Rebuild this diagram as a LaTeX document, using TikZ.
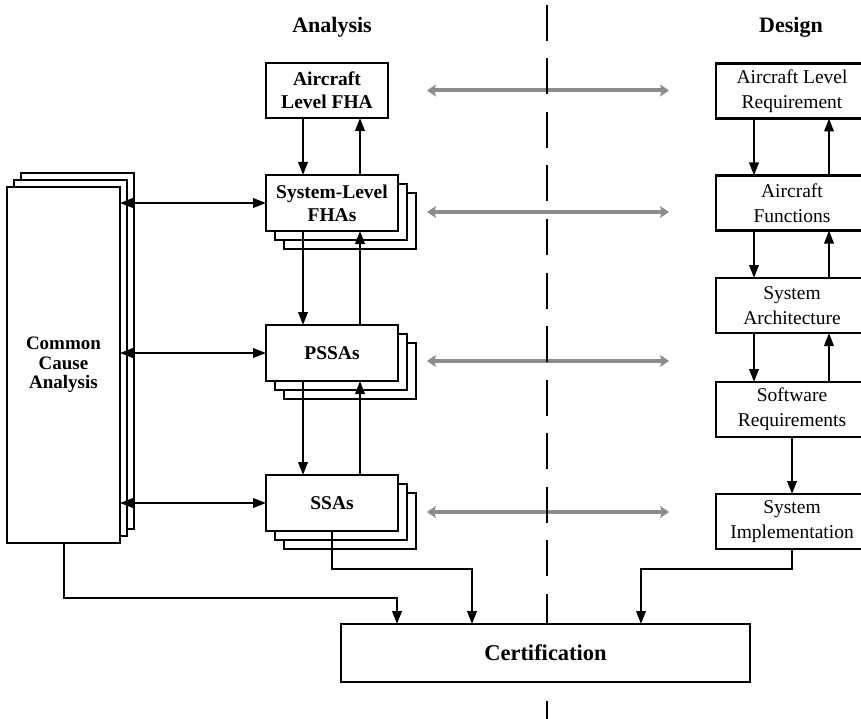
\documentclass[tikz,border=0pt]{standalone}
\usepackage{fontspec}
\setmainfont{Liberation Serif}
\usetikzlibrary{arrows.meta}
\definecolor{arrowgray}{RGB}{140,140,140}
\begin{document}
\begin{tikzpicture}[x=1pt,y=-1pt,
  box/.style={draw, line width=2.1pt, fill=white, inner sep=0pt, outer sep=0pt, align=center},
  ana/.style={box, font=\fontsize{19.5}{23}\selectfont\bfseries},
  cca/.style={box, font=\fontsize{19}{19.5}\selectfont\bfseries},
  des/.style={box, font=\fontsize{19.5}{25}\selectfont, minimum width=152pt, minimum height=55pt},
  stackbox/.style={box, minimum width=132pt, minimum height=56pt},
  title/.style={font=\fontsize{22}{26}\selectfont\bfseries, anchor=base, inner sep=0pt},
  conn/.style={line width=2pt, -{Triangle[length=13pt,width=9.5pt]}},
  biconn/.style={line width=2pt, {Triangle[length=13pt,width=9.5pt]}-{Triangle[length=13pt,width=9.5pt]}},
  grayarrow/.style={line width=4pt, draw=arrowgray, {Stealth[length=9pt,width=12pt,inset=2pt]}-{Stealth[length=9pt,width=12pt,inset=2pt]}},
  divider/.style={line width=2.3pt, dash pattern=on 36pt off 17.5pt},
]
\useasboundingbox (0,0) rectangle (861,719);

% titles
\node[title] (tana) at (332,33) {Analysis};
\node[title] (tdes) at (791,33) {Design};

% gray bidirectional arrows
\coordinate (g1l) at (427,90.5);  \coordinate (g1r) at (669,90.5);
\coordinate (g2l) at (427,212);   \coordinate (g2r) at (669,212);
\coordinate (g3l) at (427,361);   \coordinate (g3r) at (669,361);
\coordinate (g4l) at (427,512);   \coordinate (g4r) at (669,512);
\draw[grayarrow] (g1l) -- (g1r);
\draw[grayarrow] (g2l) -- (g2r);
\draw[grayarrow] (g3l) -- (g3r);
\draw[grayarrow] (g4l) -- (g4r);

% divider
\coordinate (dtop) at (547,5);
\coordinate (dbot) at (547,725);
\draw[divider] (dtop) -- (dbot);

% Common cause analysis stack
\node[box, minimum width=113pt, minimum height=356pt] (cca3) at (77.5,351) {};
\node[box, minimum width=113pt, minimum height=356pt] (cca2) at (70.5,358) {};
\node[cca, minimum width=113pt, minimum height=356pt] (cca) at (63.5,365) {Common\\Cause\\Analysis};

% Analysis column
\node[ana, minimum width=122pt, minimum height=55pt] (afha) at (327,90.5) {Aircraft\\Level FHA};

\node[stackbox] (sfha3) at (350,221) {};
\node[stackbox] (sfha2) at (341,212) {};
\node[ana, stackbox] (sfha) at (332,203) {System-Level\\FHAs};

\node[stackbox] (pssa3) at (350,371) {};
\node[stackbox] (pssa2) at (341,362) {};
\node[ana, stackbox] (pssa) at (332,353) {PSSAs};

\node[stackbox] (ssa3) at (350,521) {};
\node[stackbox] (ssa2) at (341,512) {};
\node[ana, stackbox] (ssa) at (332,503) {SSAs};

% Design column
\node[des] (alr) at (792,91) {Aircraft Level\\Requirement};
\node[des] (af)  at (792,203) {Aircraft\\Functions};
\node[des] (sa)  at (792,305.5) {System\\Architecture};
\node[des] (sr)  at (792,409.5) {Software\\Requirements};
\node[des] (si)  at (792,521.5) {System\\Implementation};

% Certification
\node[box, font=\fontsize{22.5}{26}\selectfont\bfseries, minimum width=409pt, minimum height=58pt] (cert) at (545.5,653) {Certification};

% vertical guide coordinates
\coordinate (adn) at (303,0);
\coordinate (aup) at (360,0);
\coordinate (ddn) at (754,0);
\coordinate (dup) at (829,0);

% analysis column arrows
\draw[conn] (afha.south -| adn) -- (sfha.north -| adn);
\draw[conn] (sfha.north -| aup) -- (afha.south -| aup);
\draw[conn] (sfha.south -| adn) -- (pssa.north -| adn);
\draw[conn] (pssa.north -| aup) -- (sfha.south -| aup);
\draw[conn] (pssa.south -| adn) -- (ssa.north -| adn);
\draw[conn] (ssa.north -| aup) -- (pssa.south -| aup);

% CCA links
\draw[biconn] (sfha.west -| cca.east) -- (sfha.west);
\draw[biconn] (pssa.west -| cca.east) -- (pssa.west);
\draw[biconn] (ssa.west -| cca.east) -- (ssa.west);

% design column arrows
\draw[conn] (alr.south -| ddn) -- (af.north -| ddn);
\draw[conn] (af.north -| dup) -- (alr.south -| dup);
\draw[conn] (af.south -| ddn) -- (sa.north -| ddn);
\draw[conn] (sa.north -| dup) -- (af.south -| dup);
\draw[conn] (sa.south -| ddn) -- (sr.north -| ddn);
\draw[conn] (sr.north -| dup) -- (sa.south -| dup);
\draw[conn] (sr.south) -- (si.north);

% certification links
\coordinate (c1) at (397,598);
\coordinate (c2) at (472,569);
\coordinate (c3) at (641,569);
\draw[conn] (cca.south) |- (c1) -- (cert.north -| c1);
\draw[conn] (ssa.south) |- (c2) -- (cert.north -| c2);
\draw[conn] (si.south) |- (c3) -- (cert.north -| c3);
\end{tikzpicture}
\end{document}
